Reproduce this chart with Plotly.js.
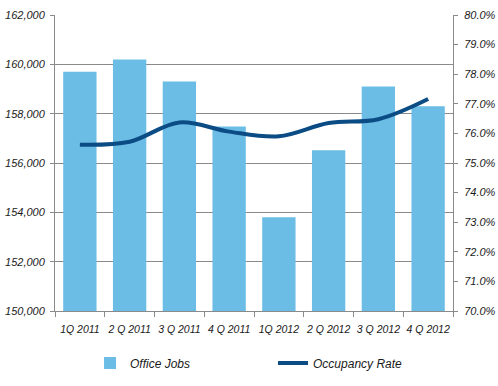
<!DOCTYPE html>
<html>
<head>
<meta charset="utf-8">
<script src="https://cdn.plot.ly/plotly-3.0.1.min.js"></script>
<style>
  html, body { margin: 0; padding: 0; background: #fff; }
  #chart { width: 498px; height: 386px; }
</style>
</head>
<body>
<div id="chart"></div>
<script>
const quarters = ["1Q 2011", "2 Q 2011", "3 Q 2011", "4 Q 2011", "1Q 2012", "2 Q 2012", "3 Q 2012", "4 Q 2012"];
const officeJobs = [159700, 160200, 159300, 157480, 153800, 156520, 159100, 158300];
const occupancyRate = [75.62, 75.72, 76.37, 76.06, 75.9, 76.35, 76.48, 77.16];

const fontFamily = '"Liberation Sans", Arial, sans-serif';
const textColor = '#1a1a1a';
const axisGray = '#8a8a8a';

const traces = [
  {
    type: 'bar',
    name: 'Office Jobs',
    x: quarters,
    y: officeJobs,
    marker: { color: '#6BBDE5', line: { width: 0 } },
    hoverinfo: 'skip'
  },
  {
    type: 'scatter',
    mode: 'lines',
    name: 'Occupancy Rate',
    x: quarters,
    y: occupancyRate,
    yaxis: 'y2',
    line: { color: '#0B4C84', width: 4, shape: 'spline', smoothing: 1 },
    hoverinfo: 'skip'
  }
];

const layout = {
  width: 498,
  height: 386,
  margin: { l: 55, r: 45, t: 15, b: 75, autoexpand: false },
  paper_bgcolor: '#ffffff',
  plot_bgcolor: '#ffffff',
  font: { family: fontFamily, size: 11, color: textColor, style: 'italic' },
  bargap: 0.33,
  showlegend: true,
  legend: {
    orientation: 'h',
    x: 0.088,
    xanchor: 'left',
    y: -0.176,
    yanchor: 'middle',
    entrywidth: 138,
    entrywidthmode: 'pixels',
    font: { family: fontFamily, size: 12, color: textColor, style: 'italic' },
    bgcolor: 'rgba(0,0,0,0)',
    traceorder: 'normal'
  },
  xaxis: {
    type: 'category',
    range: [-0.5, 7.5],
    showgrid: false,
    showline: true,
    linecolor: axisGray,
    linewidth: 1,
    ticks: 'outside',
    tickson: 'boundaries',
    ticklen: 5,
    tickcolor: axisGray,
    tickangle: 0,
    ticklabelstandoff: 8,
    automargin: false,
    tickfont: { family: fontFamily, size: 10.5, color: textColor, style: 'italic' },
    zeroline: false,
    fixedrange: true
  },
  yaxis: {
    range: [150000, 162000],
    dtick: 2000,
    tickformat: ',d',
    showgrid: true,
    gridcolor: axisGray,
    gridwidth: 1,
    showline: true,
    linecolor: axisGray,
    ticks: 'outside',
    ticklen: 4,
    tickcolor: axisGray,
    ticklabelstandoff: 3,
    automargin: false,
    tickfont: { family: fontFamily, size: 11, color: textColor, style: 'italic' },
    zeroline: false,
    fixedrange: true
  },
  yaxis2: {
    overlaying: 'y',
    side: 'right',
    range: [70, 80],
    dtick: 1,
    tickformat: '.1f',
    ticksuffix: '%',
    showgrid: false,
    showline: true,
    linecolor: axisGray,
    ticks: 'outside',
    ticklen: 4,
    tickcolor: axisGray,
    ticklabelstandoff: 4,
    automargin: false,
    tickfont: { family: fontFamily, size: 11, color: textColor, style: 'italic' },
    zeroline: false,
    fixedrange: true
  }
};

Plotly.newPlot('chart', traces, layout, { displayModeBar: false, staticPlot: true });
</script>
</body>
</html>
